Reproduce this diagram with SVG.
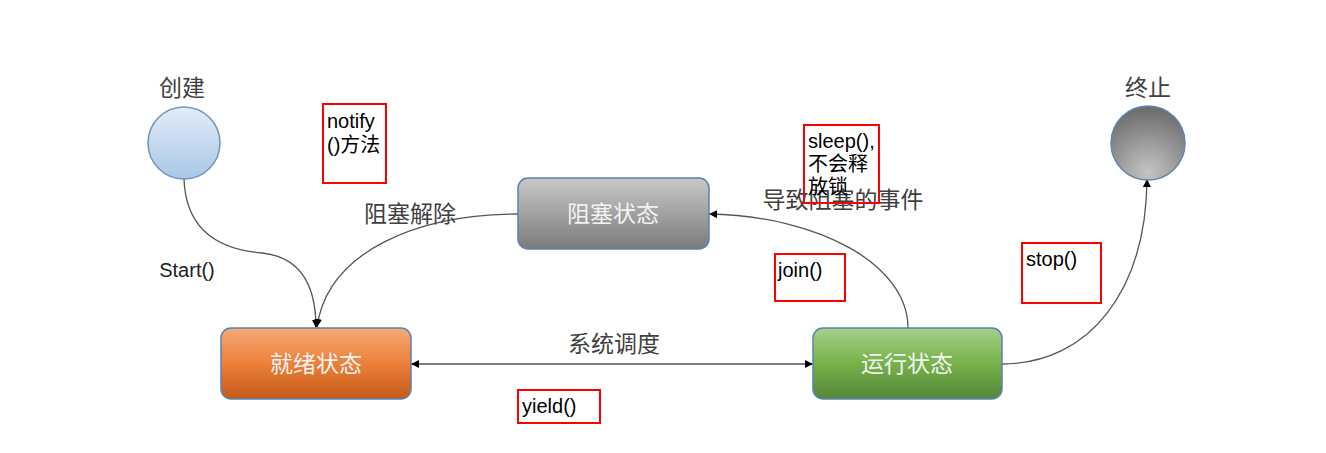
<svg xmlns="http://www.w3.org/2000/svg" width="1326" height="453" viewBox="0 0 1326 453">
<style>
.lbl{font-family:"Noto Sans CJK SC","Liberation Sans",sans-serif;font-size:23px;fill:#404040;text-anchor:middle}
.nt{font-family:"Noto Sans CJK SC","Liberation Sans",sans-serif;font-size:23px;fill:#f2f2f2;text-anchor:middle}
.note{font-family:"Liberation Sans","Noto Sans CJK SC",sans-serif;font-size:20px;fill:#000}
.rb{fill:none;stroke:#ff0000;stroke-width:2}
.conn{fill:none;stroke:#555;stroke-width:1.3}
.box{stroke:#5b82b0;stroke-width:1.5}
</style>
<defs>
<linearGradient id="gBlue" x1="0" y1="0" x2="0" y2="1"><stop offset="0" stop-color="#e2ecf7"/><stop offset="1" stop-color="#a7c7e7"/></linearGradient>
<radialGradient id="gGray" cx="0.5" cy="0.9" r="0.9"><stop offset="0" stop-color="#c4c4c4"/><stop offset="1" stop-color="#6a6a6a"/></radialGradient>
<linearGradient id="gBlk" x1="0" y1="0" x2="0" y2="1"><stop offset="0" stop-color="#c8c8c8"/><stop offset="1" stop-color="#7b7b7b"/></linearGradient>
<linearGradient id="gOr" x1="0" y1="0" x2="0" y2="1"><stop offset="0" stop-color="#f3aa78"/><stop offset="0.5" stop-color="#ec8038"/><stop offset="1" stop-color="#c35a1a"/></linearGradient>
<linearGradient id="gGr" x1="0" y1="0" x2="0" y2="1"><stop offset="0" stop-color="#a5d08a"/><stop offset="0.5" stop-color="#76b249"/><stop offset="1" stop-color="#55863a"/></linearGradient>
<marker id="arr" viewBox="0 0 10 10" refX="10" refY="5" markerWidth="8" markerHeight="8" markerUnits="userSpaceOnUse" orient="auto-start-reverse"><path d="M0,0 L10,5 L0,10 z" fill="#000"/></marker>
</defs>
<rect width="1326" height="453" fill="#fff"/>
<g id="connectors">
<path class="conn" d="M184,179 C186,235 225,250 262,253 C300,257 316,285 316,328" marker-end="url(#arr)"/>
<path class="conn" d="M518,214 C420,214 328,250 317,327" marker-end="url(#arr)"/>
<path class="conn" d="M908,328 C908,265 820,216 709,214" marker-end="url(#arr)"/>
<path class="conn" d="M411,364 L813,364" marker-start="url(#arr)" marker-end="url(#arr)"/>
<path class="conn" d="M1002,364 C1090,364 1146,290 1147,179" marker-end="url(#arr)"/>
</g>
<g id="create"><circle cx="184" cy="143" r="36" fill="url(#gBlue)" stroke="#7393b8" stroke-width="1.5"/><text class="lbl" x="182" y="96">创建</text></g>
<g id="terminate"><circle cx="1148" cy="143" r="37" fill="url(#gGray)" stroke="#6385ae" stroke-width="1.5"/><text class="lbl" x="1148" y="96">终止</text></g>
<g id="blocked"><rect class="box" x="518" y="178" width="191" height="71" rx="10" fill="url(#gBlk)"/><text class="nt" x="613" y="222">阻塞状态</text></g>
<g id="ready"><rect class="box" x="221" y="328" width="190" height="71" rx="10" fill="url(#gOr)"/><text class="nt" x="316" y="372">就绪状态</text></g>
<g id="running"><rect class="box" x="813" y="328" width="189" height="71" rx="10" fill="url(#gGr)"/><text class="nt" x="907" y="372">运行状态</text></g>
<g id="labels">
<text class="lbl" x="410" y="222">阻塞解除</text>
<text class="lbl" x="843" y="208">导致阻塞的事件</text>
<text class="lbl" x="614" y="352">系统调度</text>
<text x="187" y="277" style="font-family:'Liberation Sans',sans-serif;font-size:20px;fill:#222;text-anchor:middle">Start()</text>
</g>
<g id="note-notify"><rect class="rb" x="323" y="104" width="63" height="79"/><text class="note" x="327" y="128">notify</text><text class="note" x="327" y="152">()方法</text></g>
<g id="note-sleep"><rect class="rb" x="804" y="125" width="75" height="78"/><text class="note" x="808" y="148">sleep(),</text><text class="note" x="808" y="171">不会释</text><text class="note" x="808" y="194">放锁</text></g>
<g id="note-join"><rect class="rb" x="775" y="254" width="70" height="47"/><text class="note" x="778" y="277">join()</text></g>
<g id="note-stop"><rect class="rb" x="1022" y="243" width="79" height="60"/><text class="note" x="1026" y="266">stop()</text></g>
<g id="note-yield"><rect class="rb" x="518" y="390" width="82" height="33"/><text class="note" x="522" y="413">yield()</text></g>
</svg>
